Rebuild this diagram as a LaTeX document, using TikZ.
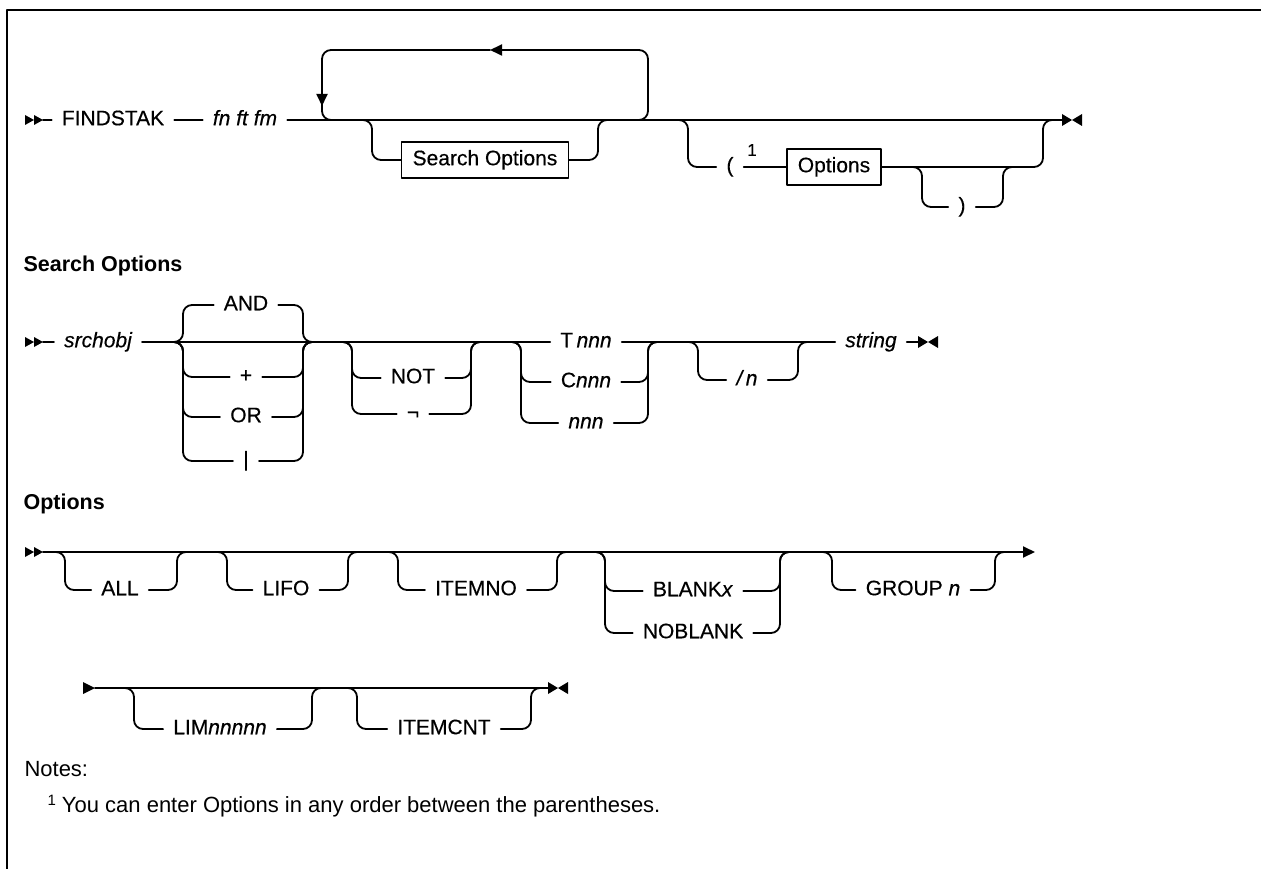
\documentclass[tikz,border=0pt]{standalone}
\usepackage{fontspec}
\setmainfont{Liberation Sans}
\newfontfamily\diagfont[FakeBold=0.4]{Liberation Sans}
\usetikzlibrary{arrows.meta}
\usetikzlibrary{positioning}

\newcommand{\dfont}{\diagfont\fontsize{21}{25}\selectfont}
% double head at the start of a row
\newcommand{\startmark}[2]{\fill (#1,#2-5) -- (#1+9,#2) -- (#1,#2+5) -- cycle (#1+9,#2-5) -- (#1+18,#2) -- (#1+9,#2+5) -- cycle;}
% bow tie at the end of a row
\newcommand{\stopmark}[2]{\fill (#1,#2-6) -- (#1+10,#2) -- (#1,#2+6) -- cycle (#1+20,#2-6) -- (#1+10,#2) -- (#1+20,#2+6) -- cycle;}

\tikzset{
	track/.style={line width=1.8pt, rounded corners=9pt},
	kw/.style={font=\dfont, inner xsep=10pt, inner ysep=2pt, text height=15pt, text depth=4.5pt},
	var/.style={kw, font=\dfont\itshape},
	optbox/.style={draw, line width=1.6pt, font=\dfont, inner xsep=11pt, inner ysep=8pt, text height=15pt, text depth=4.5pt},
	heading/.style={font=\fontsize{21.5}{25}\selectfont\bfseries, anchor=west},
	tip/.style={-{Triangle[length=12pt,width=11pt]}}
}

\begin{document}
\begin{tikzpicture}[x=1pt, y=-1pt, line cap=round, line join=round]
			\useasboundingbox (0,0) rectangle (1261,869);
			% frame
			\draw[line width=2.5pt] (7,869) -- (7,10) -- (1261,10);
			
			% FINDSTAK row
			\startmark{25}{120}
			\coordinate (r1s) at (43,120);
			\coordinate (r1e) at (1062,120);
			\node[kw] (cmd) at (113,120) {FINDSTAK};
			\node[var] (fn) at (245,120) {fn ft fm};
			\draw[track] (r1s) -- (cmd);
			\draw[track] (cmd) -- (fn);
			\draw[track] (fn) -- (r1e);
			\stopmark{1062}{120}
			
			% repeat loop
			\coordinate (lpR) at (648,120);
			\coordinate (lpL) at (322,120);
			\coordinate (lpT) at (490,50);
			\draw[track, tip] (lpR) ++(-15,0) -- (lpR) -- (648,50) -- (lpT);
			\draw[track, tip] (lpT) -- (322,50) -- (322,106);
			\draw[track] (322,100) -- (lpL) -- ++(15,0);
			
			% Search Options (optional)
			\coordinate (a) at (372,120);
			\coordinate (b) at (598,120);
			\node[optbox] (so) at (485,160) {Search Options};
			\draw[track] (a) ++(-12,0) -- (a) |- (so);
			\draw[track] (so) -| (b) -- ++(12,0);
			
			% ( Options )
			\coordinate (c) at (688,120);
			\coordinate (d) at (1043,120);
			\node[kw] (lp) at (730,167) {(};
			\node[optbox] (opt) at (834,167) {Options};
			\node[font=\diagfont\fontsize{17}{19}\selectfont] (fn1) at (752,150) {1};
			\draw[track] (c) ++(-12,0) -- (c) |- (lp);
			\draw[track] (lp) -- (opt);
			\draw[track] (opt) -| (d) -- ++(12,0);
			\coordinate (e) at (922,167);
			\coordinate (f) at (1003,167);
			\node[kw] (rp) at (962,207) {)};
			\draw[track] (e) ++(-12,0) -- (e) |- (rp);
			\draw[track] (rp) -| (f) -- ++(12,0);
			
			% Search Options fragment
			\node[heading] (h1) at (20,266) {Search Options};
			\startmark{25}{342}
			\coordinate (r2s) at (43,342);
			\coordinate (r2e) at (918,342);
			\node[var] (sobj) at (98,342) {srchobj};
			\node[kw] (tn) at (586,342) {T\,\textit{nnn}};
			\node[var] (str) at (871,342) {string};
			\draw[track] (r2s) -- (sobj);
			\draw[track] (sobj) -- (tn);
			\draw[track] (tn) -- (str);
			\draw[track] (str) -- (r2e);
			\stopmark{918}{342}
			
			% AND + OR |
			\coordinate (g1) at (183,342);
			\coordinate (g2) at (303,342);
			\node[kw] (and) at (246,305) {AND};
			\node[kw] (plus) at (246,377) {+};
			\node[kw] (or) at (246,417) {OR};
			\node[kw] (bar) at (246,461) {|};
			\foreach \n in {and,plus,or,bar} {
				\draw[track] (g1) ++(-12,0) -- (g1) |- (\n);
				\draw[track] (\n) -| (g2) -- ++(12,0);
			}
			
			% NOT
			\coordinate (g3) at (352,342);
			\coordinate (g4) at (471,342);
			\node[kw] (not) at (413,378) {NOT};
			\node[kw] (neg) at (413,414) {¬};
			\foreach \n in {not,neg} {
				\draw[track] (g3) ++(-12,0) -- (g3) |- (\n);
				\draw[track] (\n) -| (g4) -- ++(12,0);
			}
			
			% Tnnn Cnnn nnn
			\coordinate (g5) at (521,342);
			\coordinate (g6) at (648,342);
			\node[kw] (cn) at (586,382) {C\textit{nnn}};
			\node[var] (nn) at (586,423) {nnn};
			\foreach \n in {cn,nn} {
				\draw[track] (g5) ++(-12,0) -- (g5) |- (\n);
				\draw[track] (\n) -| (g6) -- ++(12,0);
			}
			
			% /n
			\coordinate (g7) at (698,342);
			\coordinate (g8) at (798,342);
			\node[var] (sl) at (747,380) {/\,n};
			\draw[track] (g7) ++(-12,0) -- (g7) |- (sl);
			\draw[track] (sl) -| (g8) -- ++(12,0);
			
			% Options fragment, first line
			\node[heading] (h2) at (20,504) {Options};
			\startmark{25}{552}
			\coordinate (r3s) at (43,552);
			\coordinate (r3e) at (1035,552);
			\draw[track, tip] (r3s) -- (r3e);
			\foreach \l/\r/\c/\t/\nm in {65/177/120/ALL/all, 227/348/286/LIFO/lifo, 398/557/476/ITEMNO/itno, 832/995/913/{GROUP \textit{n}}/grp} {
				\coordinate (\nm-l) at (\l,552);
				\coordinate (\nm-r) at (\r,552);
				\node[kw] (\nm) at (\c,590) {\t};
				\draw[track] (\nm-l) ++(-12,0) -- (\nm-l) |- (\nm);
				\draw[track] (\nm) -| (\nm-r) -- ++(12,0);
			}
			\coordinate (bl-l) at (605,552);
			\coordinate (bl-r) at (780,552);
			\node[kw] (blx) at (693,591) {BLANK\textit{x}};
			\node[kw] (nobl) at (693,633) {NOBLANK};
			\foreach \n in {blx,nobl} {
				\draw[track] (bl-l) ++(-12,0) -- (bl-l) |- (\n);
				\draw[track] (\n) -| (bl-r) -- ++(12,0);
			}
			
			% Options fragment, second line
			\fill (83,682) -- (95,688) -- (83,694) -- cycle;
			\coordinate (r4s) at (95,688);
			\coordinate (r4e) at (548,688);
			\draw[track] (r4s) -- (r4e);
			\stopmark{548}{688}
			\foreach \l/\r/\c/\t/\nm in {134/312/220/{LIM\textit{nnnnn}}/lim, 357/531/444/ITEMCNT/icnt} {
				\coordinate (\nm-l) at (\l,688);
				\coordinate (\nm-r) at (\r,688);
				\node[kw] (\nm) at (\c,729) {\t};
				\draw[track] (\nm-l) ++(-12,0) -- (\nm-l) |- (\nm);
				\draw[track] (\nm) -| (\nm-r) -- ++(12,0);
			}
			
			% notes
			\node[anchor=west, font=\fontsize{22}{26}\selectfont] (notes) at (21,769) {Notes:};
			\node[anchor=west, font=\fontsize{22}{26}\selectfont] (note1) at (44,806) {\raisebox{7pt}{\fontsize{15}{17}\selectfont 1} You can enter Options in any order between the parentheses.};
		\end{tikzpicture}
\end{document}
